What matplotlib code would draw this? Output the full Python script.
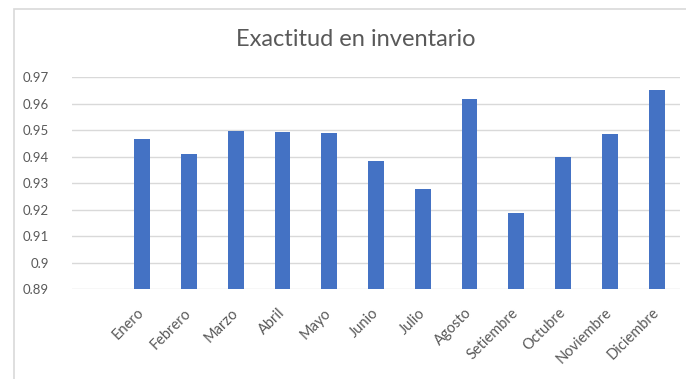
import matplotlib.pyplot as plt
from matplotlib.patches import Rectangle
from matplotlib.ticker import FuncFormatter
from matplotlib.transforms import ScaledTranslation

meses = ['Enero', 'Febrero', 'Marzo', 'Abril', 'Mayo', 'Junio', 'Julio',
         'Agosto', 'Setiembre', 'Octubre', 'Noviembre', 'Diciembre']
exactitud = [0.9466, 0.9410, 0.9497, 0.9494, 0.9489, 0.9382, 0.9278,
             0.9617, 0.9188, 0.9397, 0.9486, 0.9651]
y_ticks = [0.89, 0.90, 0.91, 0.92, 0.93, 0.94, 0.95, 0.96, 0.97]

plt.rcParams['font.family'] = ['Lato', 'DejaVu Sans']
gris = '#595959'

fig = plt.figure(figsize=(6.86, 3.79), dpi=100)
# marco del grafico
fig.patches.append(Rectangle((14 / 686, -0.05), 1.0, 1.05 - 9 / 379,
                             transform=fig.transFigure, fill=False,
                             edgecolor='#d9d9d9', linewidth=1.2))

ax = fig.add_axes([72 / 686, 1 - 289 / 379, 608 / 686, (289 - 77.3) / 379])
pos = list(range(len(meses)))
ax.bar(pos, exactitud, width=0.34, color='#4472C4', zorder=3)

ax.set_ylim(0.89, 0.97)
ax.set_xlim(-1.5, 11.5)
ax.set_yticks(y_ticks)
ax.yaxis.set_major_formatter(FuncFormatter(lambda v, p: '%g' % round(v, 2)))
ax.grid(axis='y', color='#d9d9d9', linewidth=1, zorder=0)
for s in ax.spines.values():
    s.set_visible(False)
ax.tick_params(axis='y', length=0, colors=gris, labelsize=9.5, pad=16.5)
ax.set_xticks(pos)
ax.set_xticklabels(meses, rotation=45, ha='right', rotation_mode='anchor')
ax.tick_params(axis='x', length=0, colors=gris, labelsize=10.5, pad=12)
# correr las etiquetas un poco a la izquierda
desplaza = ScaledTranslation(-5 / 100, 0, fig.dpi_scale_trans)
for lbl in ax.get_xticklabels():
    lbl.set_transform(lbl.get_transform() + desplaza)

fig.text(356 / 686, 1 - 40 / 379, 'Exactitud en inventario', ha='center',
         va='center', fontsize=17, color=gris)

fig.savefig('out.png', dpi=100)
